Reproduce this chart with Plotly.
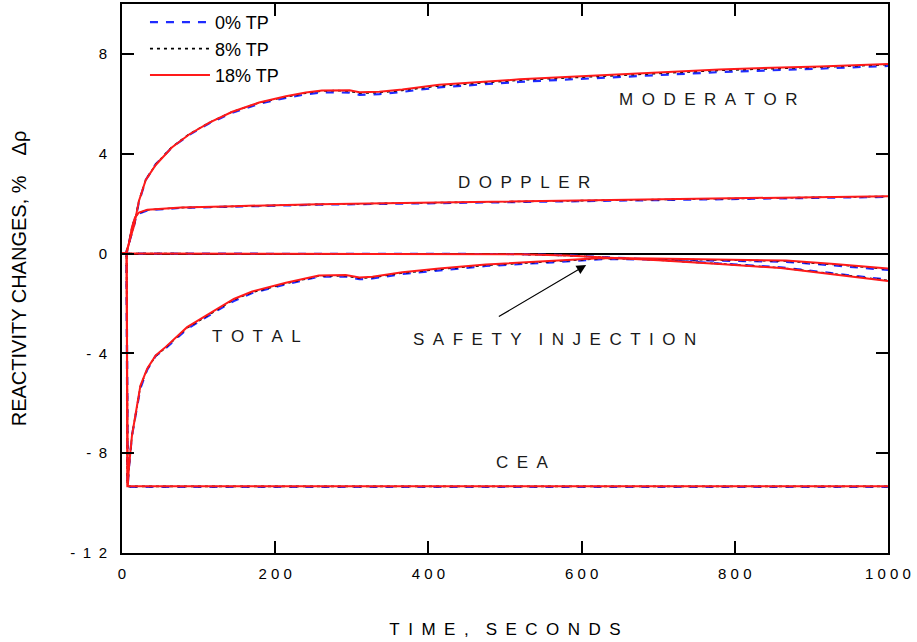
import plotly.graph_objects as go

# ---------------- data ----------------
series_names = ["0% TP", "8% TP", "18% TP"]
series_colors = ["#1f2bff", "#000000", "#ff1a1a"]

t_mod = [0, 5, 8, 12, 16, 22, 31, 44, 65, 88, 114, 144, 179, 214, 240, 261, 280, 297, 310, 336, 366, 414, 519, 650, 780, 911, 1000]
mod_0 = [0, 0, 0.3, 0.75, 1.15, 2.05, 2.95, 3.58, 4.25, 4.76, 5.22, 5.64, 6.0, 6.24, 6.38, 6.46, 6.47, 6.45, 6.36, 6.39, 6.48, 6.66, 6.88, 7.07, 7.27, 7.41, 7.52]
mod_8 = [0, 0, 0.3, 0.75, 1.15, 2.1, 2.95, 3.57, 4.27, 4.79, 5.25, 5.68, 6.04, 6.28, 6.43, 6.51, 6.53, 6.51, 6.43, 6.45, 6.54, 6.72, 6.95, 7.14, 7.34, 7.47, 7.57]
mod_18 = [0, 0, 0.3, 0.75, 1.15, 2.1, 2.95, 3.55, 4.25, 4.78, 5.25, 5.68, 6.05, 6.3, 6.45, 6.53, 6.55, 6.54, 6.46, 6.48, 6.57, 6.76, 6.98, 7.18, 7.38, 7.5, 7.6]

t_dop = [0, 6, 9, 13, 17, 22, 33, 50, 77, 146, 257, 388, 520, 693, 850, 1000]
dop_0 = [0, 0, 0.4, 1.0, 1.4, 1.6, 1.73, 1.78, 1.83, 1.88, 1.96, 2.01, 2.07, 2.14, 2.21, 2.27]
dop_8 = [0, 0, 0.4, 1.05, 1.45, 1.63, 1.75, 1.79, 1.84, 1.89, 1.97, 2.03, 2.09, 2.16, 2.23, 2.29]
dop_18 = [0, 0, 0.4, 1.05, 1.45, 1.64, 1.76, 1.8, 1.85, 1.9, 1.98, 2.04, 2.1, 2.17, 2.24, 2.3]

t_cea = [0, 6, 7, 1000]
cea_0 = [0, 0, -9.35, -9.35]
cea_8 = [0, 0, -9.33, -9.33]
cea_18 = [0, 0, -9.33, -9.33]

t_tot = [0, 6, 7.5, 9, 13, 18, 24, 33, 44, 55, 85, 120, 146, 170, 214, 257, 292, 310, 327, 366, 414, 475, 562, 628, 693, 780, 867, 930, 1000]
tot_0 = [0, 0, -9.3, -8.6, -7.3, -6.4, -5.4, -4.65, -4.1, -3.85, -3.02, -2.36, -1.9, -1.58, -1.23, -0.93, -0.92, -1.03, -1.0, -0.82, -0.67, -0.5, -0.35, -0.22, -0.24, -0.28, -0.33, -0.48, -0.66]
tot_8 = [0, 0, -9.3, -8.6, -7.3, -6.37, -5.33, -4.62, -4.1, -3.82, -2.98, -2.33, -1.85, -1.55, -1.2, -0.9, -0.89, -0.99, -0.96, -0.78, -0.63, -0.47, -0.32, -0.2, -0.22, -0.26, -0.3, -0.44, -0.62]
tot_18 = [0, 0, -9.3, -8.6, -7.3, -6.35, -5.3, -4.6, -4.08, -3.8, -2.95, -2.3, -1.82, -1.52, -1.17, -0.88, -0.86, -0.96, -0.93, -0.75, -0.6, -0.44, -0.3, -0.18, -0.2, -0.24, -0.28, -0.42, -0.6]

t_si = [0, 450, 520, 580, 628, 700, 780, 860, 930, 1000]
si_0 = [0, 0, -0.02, -0.07, -0.14, -0.25, -0.4, -0.55, -0.8, -1.05]
si_8 = [0, 0, -0.03, -0.08, -0.15, -0.26, -0.41, -0.57, -0.82, -1.08]
si_18 = [0, 0, -0.03, -0.08, -0.15, -0.27, -0.42, -0.58, -0.84, -1.1]

y_tickvals = [-12, -8, -4, 0, 4, 8]
y_ticktext = ["-\u20021\u20022", "-\u20028", "-\u20024", "0", "4", "8"]
x_tickvals = [0, 200, 400, 600, 800, 1000]
x_ticktext = ["0", "2\u00a00\u00a00", "4\u00a00\u00a00", "6\u00a00\u00a00", "8\u00a00\u00a00", "1\u00a00\u00a00\u00a00"]

# ---------------- figure ----------------
sp = "\u2002"
word_gap = "\u2002\u2002"


def spaced(word):
    return sp.join(list(word))


def spaced_words(txt):
    return word_gap.join(spaced(w) for w in txt.split(" "))


groups = [
    (mod_0, dop_0, cea_0, tot_0, si_0),
    (mod_8, dop_8, cea_8, tot_8, si_8),
    (mod_18, dop_18, cea_18, tot_18, si_18),
]
times = [t_mod, t_dop, t_cea, t_tot, t_si]

styles = [
    dict(color=series_colors[0], width=2.2, dash="8px,8px"),
    dict(color=series_colors[1], width=1.6, dash="3px,4px"),
    dict(color=series_colors[2], width=2.0),
]

fig = go.Figure()
for name, grp, st in zip(series_names, groups, styles):
    xs, ys = [], []
    for tt, vv in zip(times, grp):
        xs += list(tt) + [None]
        ys += list(vv) + [None]
    fig.add_trace(go.Scatter(x=xs, y=ys, mode="lines", name=name, line=st,
                             connectgaps=False))

lab_font = dict(family="Liberation Sans, Arial, sans-serif", size=17, color="#1a1a1a")
labels = [
    ("MODERATOR", 766, 6.16),
    ("DOPPLER", 525, 2.84),
    ("TOTAL", 175, -3.32),
    ("SAFETY INJECTION", 565, -3.44),
    ("CEA", 523, -8.36),
]
for txt, xx, yy in labels:
    fig.add_annotation(x=xx, y=yy, text=spaced_words(txt), showarrow=False, font=lab_font,
                       xanchor="center", yanchor="middle")

fig.add_annotation(x=606, y=-0.46, ax=490, ay=-2.56, xref="x", yref="y", axref="x", ayref="y",
                   text="", showarrow=True, arrowhead=2, arrowsize=1.6, arrowwidth=1.2,
                   arrowcolor="#000000")

axis_font = dict(family="Liberation Sans, Arial, sans-serif", size=15, color="#000000")

fig.update_layout(
    width=917, height=642,
    margin=dict(l=122, r=29, t=4, b=89),
    paper_bgcolor="white", plot_bgcolor="white",
    showlegend=True,
    legend=dict(x=0.03, y=1.0, xanchor="left", yanchor="top",
                bgcolor="rgba(0,0,0,0)", borderwidth=0,
                font=dict(family="Liberation Sans, Arial, sans-serif", size=18, color="#000"),
                itemwidth=60, tracegroupgap=0),
    xaxis=dict(range=[0, 1000], tickvals=x_tickvals, ticktext=x_ticktext,
               ticks="inside", ticklen=12, tickwidth=1.5, tickcolor="black",
               showline=True, linecolor="black", linewidth=2, mirror="ticks",
               showgrid=False, zeroline=False, tickfont=axis_font,
               ticklabelstandoff=6, automargin=False,
               title=dict(text=spaced_words("TIME, SECONDS"),
                          font=dict(family="Liberation Sans, Arial, sans-serif", size=17, color="#000"),
                          standoff=42)),
    yaxis=dict(range=[-12, 10], tickvals=y_tickvals, ticktext=y_ticktext,
               ticks="inside", ticklen=12, tickwidth=1.5, tickcolor="black",
               showline=True, linecolor="black", linewidth=2, mirror="ticks",
               showgrid=False, zeroline=True, zerolinecolor="black", zerolinewidth=1.5,
               tickfont=axis_font, ticklabelstandoff=10, automargin=False,
               title=dict(text="REACTIVITY CHANGES, %\u2003\u0394\u03c1",
                          font=dict(family="Liberation Sans, Arial, sans-serif", size=20, color="#000"),
                          standoff=38)),
)

fig.write_html("out.html")
